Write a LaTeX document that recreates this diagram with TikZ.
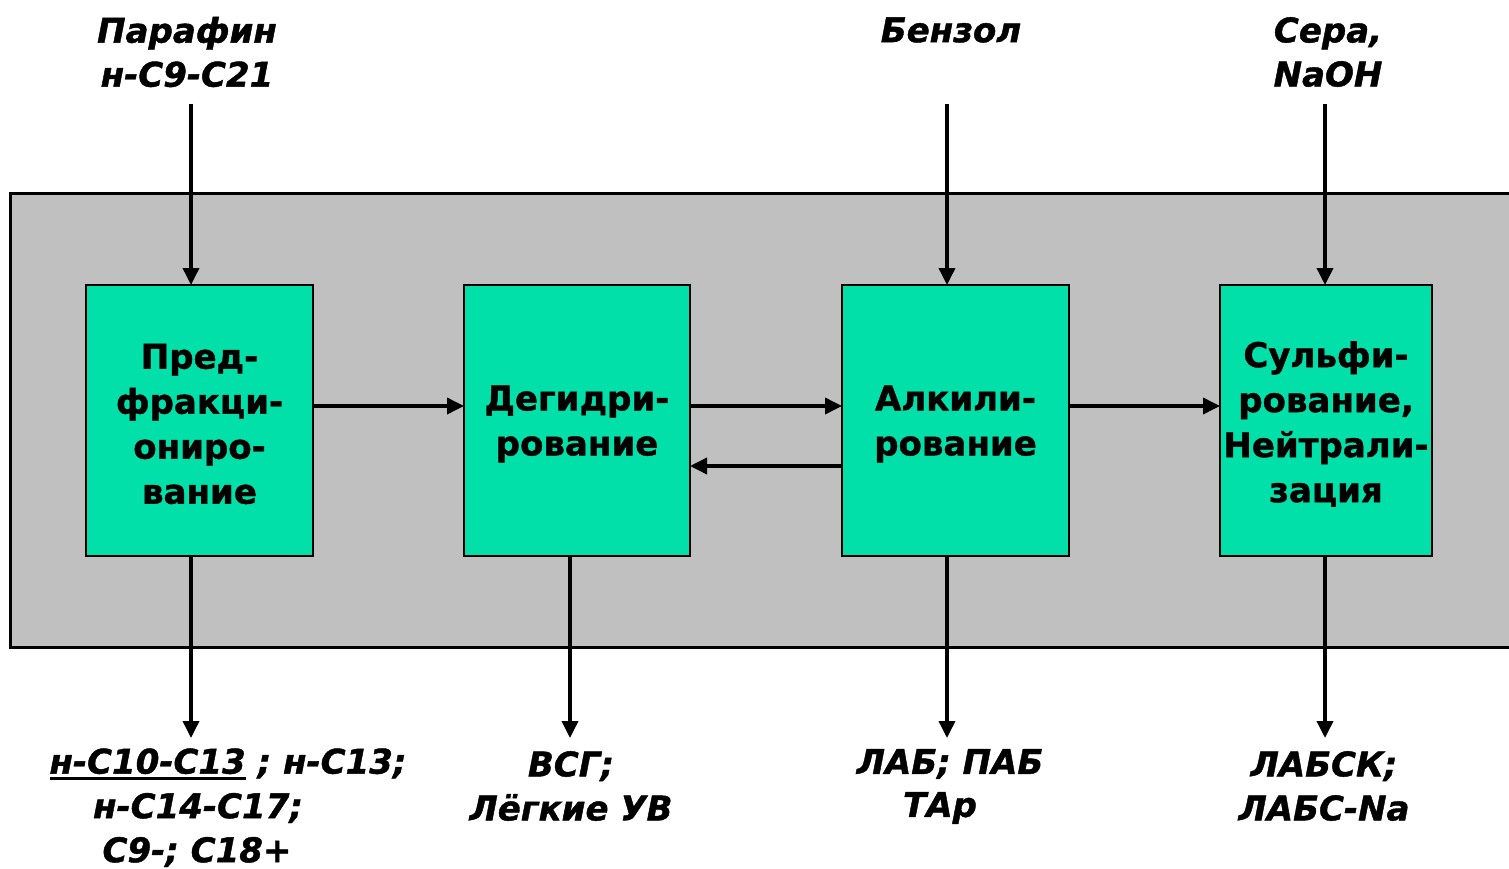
\documentclass[tikz,border=0pt]{standalone}
\usepackage{fontspec}
\setmainfont{DejaVu Sans}[BoldFeatures={FakeBold=1.2},BoldItalicFeatures={FakeBold=1.2}]
\usetikzlibrary{arrows.meta}
\definecolor{panelgray}{RGB}{192,192,192}
\definecolor{boxgreen}{RGB}{0,224,168}
\newcommand\myul[1]{\setbox0\hbox{#1}\rlap{\rule[-6pt]{\wd0}{3pt}}#1}
\tikzset{
  procbox/.style={draw=black, line width=2pt, fill=boxgreen},
  boxtext/.style={align=center, font=\fontsize{34}{45}\selectfont\bfseries, inner sep=0pt},
  lbl/.style={align=center, font=\fontsize{34}{44}\selectfont\bfseries\itshape, inner sep=0pt},
  flow/.style={line width=3.6pt, -{Triangle[length=17pt,width=16pt]}},
}
\begin{document}
\begin{tikzpicture}[x=1pt,y=-1pt]
\useasboundingbox (0,0) rectangle (1509,869);
\begin{scope}
\clip (0,0) rectangle (1509,869);
\draw[line width=3pt, fill=panelgray] (10,194) rectangle (1530,647);
\end{scope}
% boxes
\draw[procbox] (86,285) rectangle (313,556);
\draw[procbox] (464,285) rectangle (690,556);
\draw[procbox] (842,285) rectangle (1069,556);
\draw[procbox] (1220,285) rectangle (1432,556);
\node[boxtext] (t1) at (199.5,424) {Пред-\\фракци-\\ониро-\\вание};
\node[boxtext] (t2) at (577,424) {Дегидри-\\рование};
\node[boxtext] (t3) at (955.5,424) {Алкили-\\рование};
\node[boxtext] (t4) at (1326,424) {Сульфи-\\рование,\\Нейтрали-\\зация};
% box side coordinates
\coordinate (b1r) at (313,406);
\coordinate (b2l) at (464,406);
\coordinate (b2r) at (690,406);
\coordinate (b3l) at (842,406);
\coordinate (b3r) at (1069,406);
\coordinate (b4l) at (1220,406);
\coordinate (b3lb) at (842,466);
\coordinate (b2rb) at (690,466);
\draw[flow] (b1r) -- (b2l);
\draw[flow] (b2r) -- (b3l);
\draw[flow] (b3lb) -- (b2rb);
\draw[flow] (b3r) -- (b4l);
% inputs
\node[lbl] (in1) at (187,52) {Парафин\\н-С9-С21};
\node[lbl] (in3) at (951,30) {Бензол};
\node[lbl] (in4) at (1328,52) {Сера,\\NaOH};
\coordinate (i1s) at (191,104); \coordinate (i1e) at (191,285);
\coordinate (i3s) at (947,104); \coordinate (i3e) at (947,285);
\coordinate (i4s) at (1325,104); \coordinate (i4e) at (1325,285);
\draw[flow] (i1s) -- (i1e);
\draw[flow] (i3s) -- (i3e);
\draw[flow] (i4s) -- (i4e);
% outputs
\coordinate (o1s) at (191,556); \coordinate (o1e) at (191,738);
\coordinate (o2s) at (570,556); \coordinate (o2e) at (570,738);
\coordinate (o3s) at (947,556); \coordinate (o3e) at (947,738);
\coordinate (o4s) at (1325,556); \coordinate (o4e) at (1325,738);
\draw[flow] (o1s) -- (o1e);
\draw[flow] (o2s) -- (o2e);
\draw[flow] (o3s) -- (o3e);
\draw[flow] (o4s) -- (o4e);
\node[lbl] (out1a) at (228,764) {\myul{н-С10-С13} ; н-С13;};
\node[lbl] (out1b) at (198,808) {н-С14-С17;};
\node[lbl] (out1c) at (197,852) {С9-; С18+};
\node[lbl] (out2) at (571,786) {ВСГ;\\Лёгкие УВ};
\node[lbl] (out3a) at (950,764) {ЛАБ; ПАБ};
\node[lbl] (out3b) at (940,808) {ТАр};
\node[lbl] (out4) at (1324,786) {ЛАБСК;\\ЛАБС-Na};
\end{tikzpicture}
\end{document}
